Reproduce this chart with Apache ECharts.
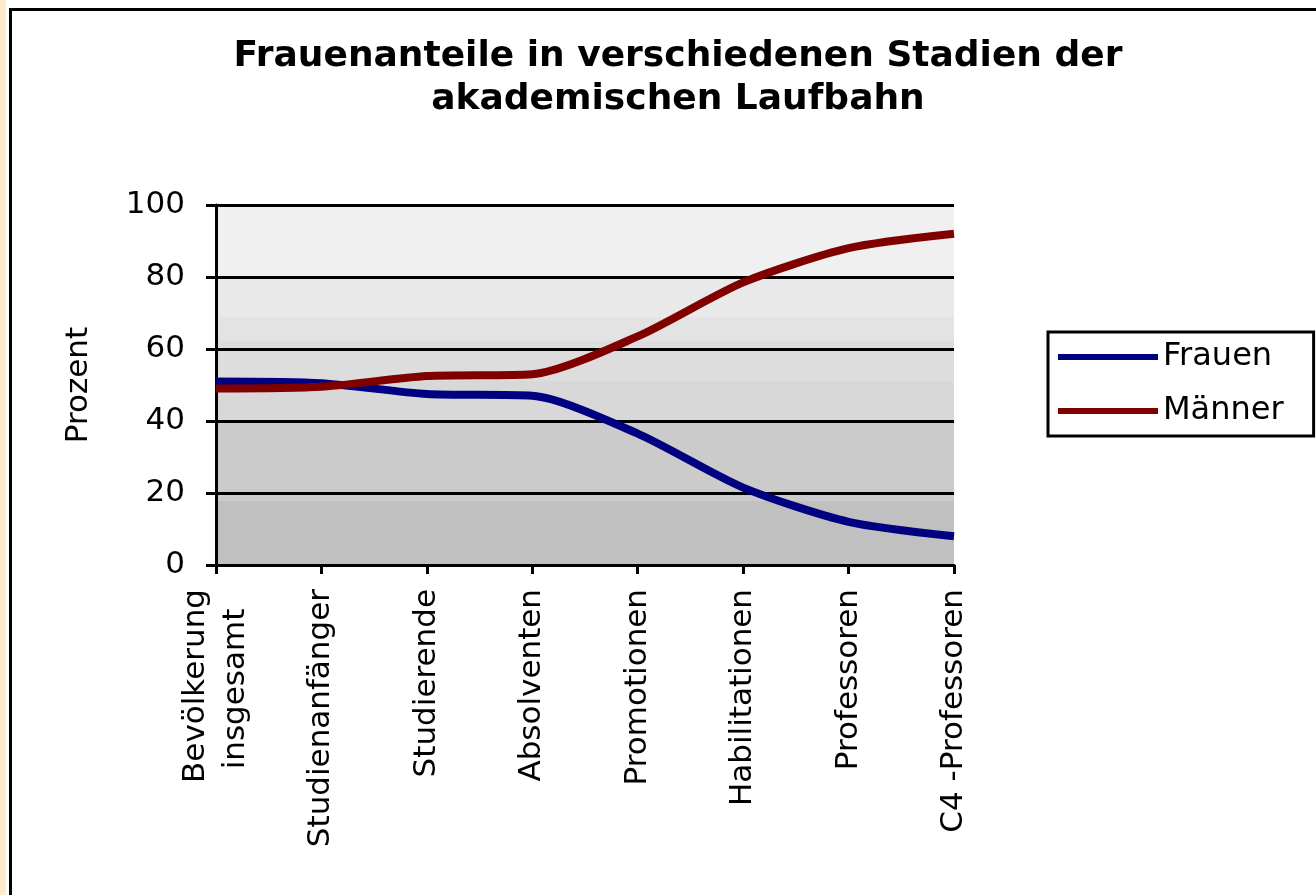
<!DOCTYPE html>
<html>
<head>
<meta charset="utf-8">
<title>Frauenanteile</title>
<script src="https://cdn.jsdelivr.net/npm/echarts@6/dist/echarts.min.js"></script>
<style>
  html, body { margin: 0; padding: 0; background: #fff; }
  .strip { position: absolute; left: 0; top: 0; width: 6px; height: 895px; background: #fdeac8; }
  .frame { position: absolute; left: 9px; top: 8px; right: 0; bottom: 0; border-left: 3px solid #000; border-top: 3px solid #000; }
  #chart { position: absolute; left: 0; top: 0; width: 1316px; height: 895px; }
</style>
</head>
<body>
<div class="strip"></div>
<div class="frame"></div>
<div id="chart"></div>
<script>
// Kategorien (x-Achse)
var categories = ['Bevölkerung\ninsgesamt  ', 'Studienanfänger', 'Studierende', 'Absolventen',
  'Promotionen', 'Habilitationen', 'Professoren', 'C4 -Professoren']
// Anteile in Prozent
var frauen = [51, 50.5, 47.5, 47, 36.5, 21.5, 12, 8]
var maenner = [49, 49.5, 52.5, 53, 63.5, 78.5, 88, 92]
var yTicks = { min: 0, max: 100, interval: 20 }

var font = 'DejaVu Sans'
var chart = echarts.init(document.getElementById('chart'))
var option = {
  animation: false,
  title: {
    text: 'Frauenanteile in verschiedenen Stadien der\nakademischen Laufbahn',
    left: 673,
    top: 30,
    textAlign: 'center',
    textStyle: { fontFamily: font, fontWeight: 'bold', fontSize: 36, lineHeight: 43, color: '#000' }
  },
  legend: {
    orient: 'vertical',
    left: 1048,
    top: 332,
    padding: [9, 30, 9, 10],
    borderColor: '#000',
    borderWidth: 3,
    icon: 'rect',
    itemWidth: 100,
    itemHeight: 6,
    itemGap: 22,
    textStyle: { fontFamily: font, fontSize: 32, lineHeight: 30, color: '#000' },
    data: ['Frauen', 'Männer']
  },
  grid: {
    show: true,
    left: 216,
    top: 205,
    width: 738,
    height: 360,
    borderWidth: 0,
    backgroundColor: {
      type: 'linear', x: 0, y: 0, x2: 0, y2: 1,
      colorStops: [
        { offset: 0, color: '#f0f0f0' }, { offset: 0.2, color: '#f0f0f0' },
        { offset: 0.2, color: '#e9e9e9' }, { offset: 0.311, color: '#e9e9e9' },
        { offset: 0.311, color: '#e3e3e3' }, { offset: 0.378, color: '#e3e3e3' },
        { offset: 0.378, color: '#dddddd' }, { offset: 0.489, color: '#dddddd' },
        { offset: 0.489, color: '#d8d8d8' }, { offset: 0.603, color: '#d8d8d8' },
        { offset: 0.603, color: '#cbcbcb' }, { offset: 0.822, color: '#cbcbcb' },
        { offset: 0.822, color: '#c0c0c0' }, { offset: 1, color: '#c0c0c0' }
      ]
    }
  },
  xAxis: {
    type: 'category',
    boundaryGap: false,
    data: categories,
    axisLine: { lineStyle: { color: '#000', width: 3 } },
    axisTick: { length: 9, lineStyle: { color: '#000', width: 3 } },
    axisLabel: {
      rotate: 90, interval: 0, margin: 24,
      fontFamily: font, fontSize: 31, lineHeight: 40, color: '#000'
    }
  },
  yAxis: {
    type: 'value',
    min: yTicks.min,
    max: yTicks.max,
    interval: yTicks.interval,
    name: 'Prozent',
    nameLocation: 'middle',
    nameRotate: 90,
    nameGap: 122,
    nameTextStyle: { fontFamily: font, fontSize: 31, color: '#000' },
    axisLine: { show: true, lineStyle: { color: '#000', width: 3 } },
    axisTick: { show: true, length: 10, lineStyle: { color: '#000', width: 3 } },
    axisLabel: { margin: 31, fontFamily: font, fontSize: 31, color: '#000' },
    splitLine: { lineStyle: { color: '#000', width: 3 } }
  },
  series: [
    {
      name: 'Frauen', type: 'line', data: frauen, smooth: 0.25, symbol: 'none',
      lineStyle: { color: '#000080', width: 8 }, itemStyle: { color: '#000080' }
    },
    {
      name: 'Männer', type: 'line', data: maenner, smooth: 0.25, symbol: 'none',
      lineStyle: { color: '#800000', width: 8 }, itemStyle: { color: '#800000' }
    }
  ]
}
chart.setOption(option)
</script>
</body>
</html>
